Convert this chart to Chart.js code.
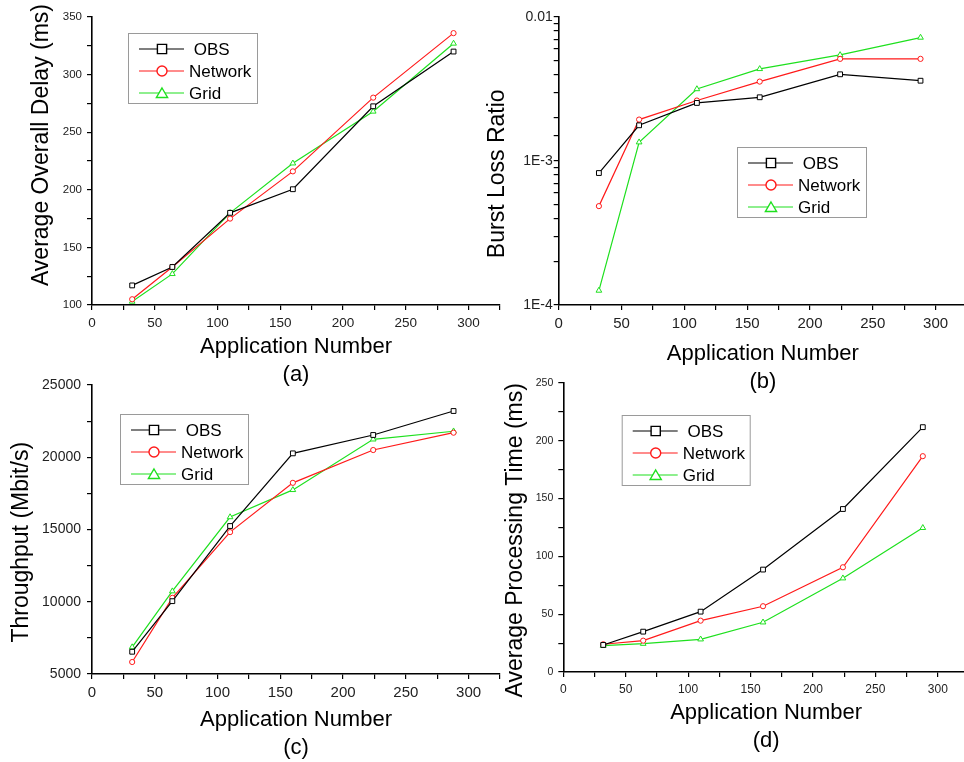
<!DOCTYPE html>
<html lang="en">
<head>
<meta charset="UTF-8">
<title>OBS Grid simulation results</title>
<script src="https://cdn.jsdelivr.net/npm/chart.js"></script>
<style>
  html, body { margin: 0; padding: 0; background: #fff; overflow: hidden; }
  #wrap { position: relative; width: 964px; height: 762px; overflow: hidden; }
  canvas { position: absolute; }
</style>
</head>
<body>
<div id="wrap">
  <canvas id="chartA" width="505" height="400" style="left:0;top:0"></canvas>
  <canvas id="chartB" width="490" height="400" style="left:482px;top:0"></canvas>
  <canvas id="chartC" width="505" height="392" style="left:0;top:370px"></canvas>
  <canvas id="chartD" width="492" height="392" style="left:482px;top:370px"></canvas>
</div>

<script>
// x values shared by all four panels
const appNumbers = [32, 64, 110, 160, 224, 288];
const seriesNames = [' OBS', 'Network', 'Grid'];
const xTickLabels = [0, 50, 100, 150, 200, 250, 300];

// (a) average overall delay, ms
const delayOBS = [117, 133, 180, 200.5, 272.5, 320];
const delayNetwork = [105, 133, 175, 216, 280, 336];
const delayGrid = [103, 127, 180, 223, 268, 327];
const delayTicks = [100, 150, 200, 250, 300, 350];

// (b) burst loss ratio
const lossOBS = [8.25e-4, 1.77e-3, 2.53e-3, 2.77e-3, 4.0e-3, 3.61e-3];
const lossNetwork = [4.86e-4, 1.94e-3, 2.63e-3, 3.56e-3, 5.12e-3, 5.12e-3];
const lossGrid = [1.26e-4, 1.35e-3, 3.16e-3, 4.36e-3, 5.45e-3, 7.2e-3];
const lossTickValues = [1e-4, 1e-3, 1e-2];
const lossTickLabels = ['1E-4', '1E-3', '0.01'];

// (c) throughput, Mbit/s
const thrOBS = [6540, 10040, 15240, 20270, 21540, 23200];
const thrNetwork = [5830, 10270, 14820, 18230, 20500, 21700];
const thrGrid = [6860, 10730, 15860, 17740, 21240, 21800];
const thrTicks = [5000, 10000, 15000, 20000, 25000];

// (d) average processing time, ms
const procOBS = [23.4, 34.9, 52.2, 88.6, 141, 211.8];
const procNetwork = [24, 27.1, 44.4, 56.9, 90.6, 186.7];
const procGrid = [22.8, 24.5, 28.3, 43, 81.1, 124.7];
const procTicks = [0, 50, 100, 150, 200, 250];

const FONT = '"Liberation Sans", Arial, sans-serif';
const colors = ['#000000', '#ff1a1a', '#1ee01e'];
const markers = ['rect', 'circle', 'triangle'];
const markerSize = [3.4, 2.6, 3.3];

// legend drawn as a framed box inside the plot, like the original figures
const boxLegend = {
  id: 'boxLegend',
  afterDatasetsDraw(chart, args, o) {
    const ctx = chart.ctx;
    ctx.save();
    ctx.fillStyle = '#fff';
    ctx.fillRect(o.x, o.y, o.w, o.h);
    ctx.strokeStyle = '#9a9a9a';
    ctx.lineWidth = 1;
    ctx.strokeRect(o.x + 0.5, o.y + 0.5, o.w, o.h);
    chart.data.datasets.forEach((ds, i) => {
      const cy = o.y + 16 + i * 22;
      const x0 = o.x + 11;
      const mx = x0 + 23;
      ctx.strokeStyle = ds.borderColor;
      ctx.lineWidth = 1.2;
      ctx.beginPath();
      ctx.moveTo(x0, cy);
      ctx.lineTo(x0 + 45, cy);
      ctx.stroke();
      ctx.fillStyle = '#fff';
      ctx.lineWidth = 1.4;
      ctx.beginPath();
      if (ds.pointStyle === 'rect') {
        ctx.rect(mx - 4.6, cy - 4.6, 9.2, 9.2);
      } else if (ds.pointStyle === 'circle') {
        ctx.arc(mx, cy, 5, 0, Math.PI * 2);
      } else {
        ctx.moveTo(mx, cy - 5);
        ctx.lineTo(mx + 5.6, cy + 4.5);
        ctx.lineTo(mx - 5.6, cy + 4.5);
        ctx.closePath();
      }
      ctx.fill();
      ctx.stroke();
      ctx.fillStyle = '#000';
      ctx.font = '17px ' + FONT;
      ctx.textBaseline = 'middle';
      ctx.fillText(ds.label, x0 + 50, cy + 1);
    });
    ctx.restore();
  }
};

function makePanel(id, p) {
  const axisGrid = { drawOnChartArea: false, drawTicks: true, tickLength: 5, color: '#000', lineWidth: 1.2 };
  const axisBorder = { display: true, color: '#000', width: 1.6 };
  new Chart(document.getElementById(id), {
    type: 'line',
    data: {
      datasets: p.series.map((vals, i) => ({
        label: seriesNames[i],
        data: appNumbers.map((x, k) => ({ x: x, y: vals[k] })),
        borderColor: colors[i],
        backgroundColor: '#fff',
        borderWidth: 1.2,
        pointStyle: markers[i],
        pointRadius: markerSize[i],
        pointBorderWidth: 1,
        pointBackgroundColor: '#fff',
        pointBorderColor: colors[i],
        tension: 0
      }))
    },
    options: {
      responsive: false,
      animation: false,
      devicePixelRatio: 1,
      layout: { padding: { left: 0, top: p.top, right: p.right, bottom: 0 } },
      plugins: {
        legend: { display: false },
        tooltip: { enabled: false },
        boxLegend: p.legend
      },
      scales: {
        x: {
          type: 'linear',
          min: 0,
          max: 325,
          afterFit: s => { s.height = p.xHeight; },
          grid: axisGrid,
          border: axisBorder,
          ticks: {
            stepSize: 25,
            autoSkip: false,
            includeBounds: false,
            maxRotation: 0,
            padding: 5,
            color: '#222',
            font: { family: FONT, size: p.xTickSize },
            callback: v => xTickLabels.includes(v) ? String(v) : ''
          },
          title: {
            display: true,
            text: ['Application Number', p.tag],
            color: '#000',
            font: { family: FONT, size: 22, lineHeight: 1.27 },
            padding: { top: 0, bottom: p.xTitlePad }
          }
        },
        y: Object.assign({
          afterFit: s => { s.width = p.yWidth; },
          grid: axisGrid,
          border: axisBorder,
          title: {
            display: true,
            text: p.yTitle,
            color: '#000',
            font: { family: FONT, size: 23, lineHeight: 1.2 },
            padding: { top: p.yTitlePad, bottom: 0 }
          }
        }, p.y)
      }
    },
    plugins: [boxLegend]
  });
}

function linearY(min, max, step, labels, size, pad) {
  return {
    type: 'linear', min: min, max: max,
    ticks: {
      stepSize: step, autoSkip: false, padding: pad, color: '#222',
      font: { family: FONT, size: size },
      callback: v => labels.includes(v) ? String(v) : ''
    }
  };
}

// padding spaces nudge the rotated titles off-centre as in the original
makePanel('chartA', {
  series: [delayOBS, delayNetwork, delayGrid],
  tag: '(a)', yTitle: '     Average Overall Delay (ms)',
  top: 17, right: 3.5, xHeight: 95, yWidth: 92, yTitlePad: 28.2, xTitlePad: 11,
  xTickSize: 13.5,
  legend: { x: 128, y: 33, w: 129, h: 70 },
  y: linearY(100, 350, 25, delayTicks, 11.5, 5)
});

makePanel('chartB', {
  series: [lossOBS, lossNetwork, lossGrid],
  tag: '(b)', yTitle: 'Burst Loss Ratio    ',
  top: 17, right: 3.8, xHeight: 95, yWidth: 76.7, yTitlePad: 2.2, xTitlePad: 4,
  xTickSize: 15,
  legend: { x: 255, y: 147, w: 129, h: 70 },
  y: {
    type: 'logarithmic', min: 1e-4, max: 1e-2,
    ticks: {
      autoSkip: false, padding: 1, color: '#222',
      font: { family: FONT, size: 14 },
      callback: v => {
        const k = lossTickValues.findIndex(t => Math.abs(v - t) / t < 1e-6);
        return k >= 0 ? lossTickLabels[k] : '';
      }
    }
  }
});

makePanel('chartC', {
  series: [thrOBS, thrNetwork, thrGrid],
  tag: '(c)', yTitle: 'Throughput (Mbit/s)    ',
  top: 15, right: 4.6, xHeight: 88, yWidth: 92, yTitlePad: 8.2, xTitlePad: 0,
  xTickSize: 15,
  legend: { x: 120, y: 44, w: 128, h: 70 },
  y: linearY(5000, 25000, 2500, thrTicks, 14, 6)
});

makePanel('chartD', {
  series: [procOBS, procNetwork, procGrid],
  tag: '(d)', yTitle: 'Average Processing Time (ms)    ',
  top: 13, right: 1.8, xHeight: 90, yWidth: 81.3, yTitlePad: 20.2, xTitlePad: 7,
  xTickSize: 12,
  legend: { x: 139.7, y: 45, w: 128, h: 70 },
  y: linearY(0, 250, 25, procTicks, 10.5, 5)
});
</script>
</body>
</html>
